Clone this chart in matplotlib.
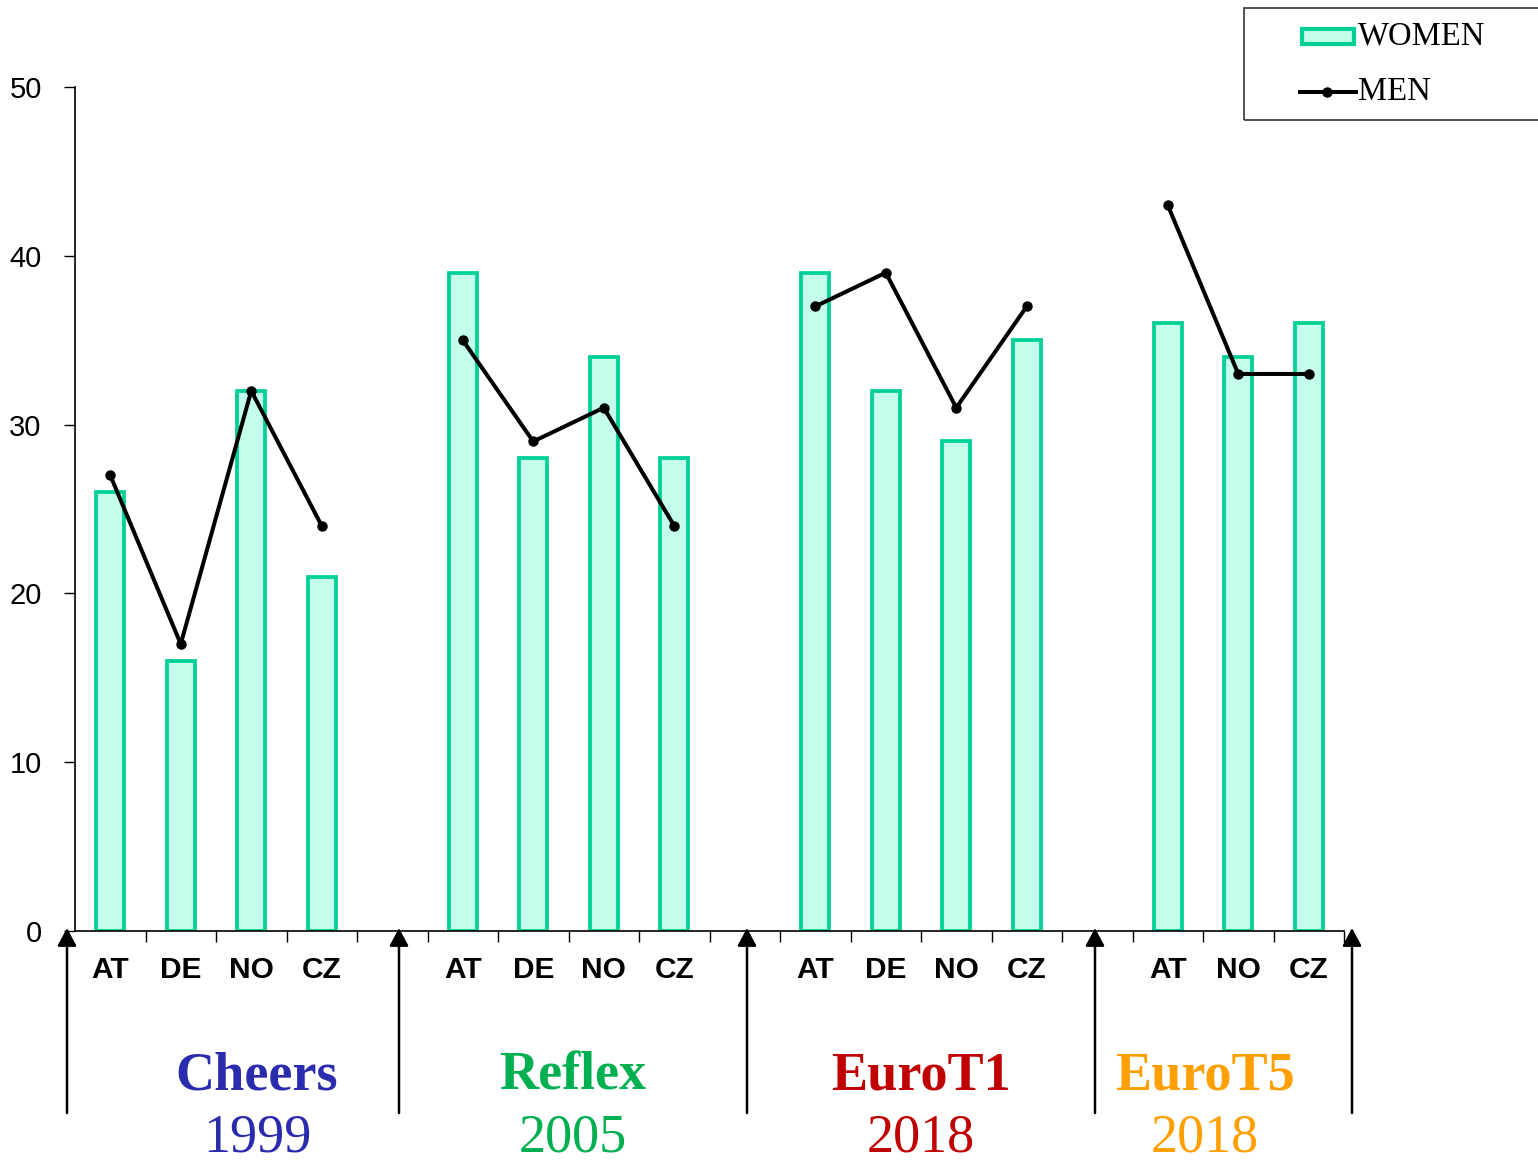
import matplotlib
matplotlib.use("Agg")
import matplotlib.pyplot as plt
import numpy as np
from matplotlib.patches import Rectangle, FancyArrowPatch
from matplotlib.lines import Line2D

# ---- data ----
groups = ["Cheers", "Reflex", "EuroT1", "EuroT5"]
years = ["1999", "2005", "2018", "2018"]
group_colors = ["#2B2BAD", "#00B050", "#C00000", "#FF9F00"]
countries = [["AT", "DE", "NO", "CZ"], ["AT", "DE", "NO", "CZ"],
             ["AT", "DE", "NO", "CZ"], ["AT", "NO", "CZ"]]
women = [[26, 16, 32, 21], [39, 28, 34, 28], [39, 32, 29, 35], [36, 34, 36]]
men = [[27, 17, 32, 24], [35, 29, 31, 24], [37, 39, 31, 37], [43, 33, 33]]

W, H = 1538, 1162
fig = plt.figure(figsize=(W / 100, H / 100), dpi=100)
ax = fig.add_axes([75 / W, (H - 931) / H, (1344 - 75) / W, (931 - 87) / H])

edge = "#00D096"
fill = "#C4FFEE"

pos = 0
xticks, xlabels = [], []
for gi, (cs, wv, mv) in enumerate(zip(countries, women, men)):
    xs = np.arange(pos, pos + len(cs))
    ax.bar(xs, wv, width=0.40, color=fill, edgecolor=edge, linewidth=2.7, zorder=2)
    ax.plot(xs, mv, color="black", lw=2.9, marker="o", markersize=6.5, zorder=3)
    xticks += list(xs)
    xlabels += cs
    pos += len(cs) + 1

ax.set_xlim(-0.5, 17.5)
ax.set_ylim(0, 50)
ax.set_yticks([0, 10, 20, 30, 40, 50])
ax.tick_params(axis="y", labelsize=21, length=8, width=1, pad=16, direction="out")
for lab in ax.get_yticklabels():
    lab.set_fontfamily("Liberation Sans")

ax.set_xticks(xticks)
ax.set_xticklabels(xlabels, fontsize=21.5, fontweight="bold", fontfamily="Liberation Sans")
ax.tick_params(axis="x", which="major", length=0, pad=18)
ax.set_xticks(np.arange(0.5, 18.0, 1.0), minor=True)
ax.tick_params(axis="x", which="minor", length=8, width=1, direction="out")

for s in ["top", "right"]:
    ax.spines[s].set_visible(False)
for s in ["left", "bottom"]:
    ax.spines[s].set_linewidth(1.2)

# arrows in figure pixels
for xa in [67, 399, 747, 1095, 1352]:
    fig.add_artist(FancyArrowPatch(
        (xa / W, (H - 1113) / H), (xa / W, (H - 928) / H),
        transform=fig.transFigure, arrowstyle="-|>,head_length=0.6,head_width=0.32",
        mutation_scale=18, color="black", lw=1.8, shrinkA=0, shrinkB=0))

# group titles
title_x = [257, 573, 921, 1205]
for g, yv, c, tx in zip(groups, years, group_colors, title_x):
    fig.text(tx / W, (H - 1077) / H, g, color=c, fontsize=39, fontweight="bold",
             fontfamily="Liberation Serif", ha="center", va="center")
    fig.text(tx / W, (H - 1138) / H, yv, color=c, fontsize=39,
             fontfamily="Liberation Serif", ha="center", va="center")

# legend box
fig.add_artist(Rectangle((1244 / W, (H - 120) / H), 320 / W, 112 / H,
                         transform=fig.transFigure, fill=False, edgecolor="#333333", lw=1.2))
fig.add_artist(Rectangle((1302 / W, (H - 44) / H), 52 / W, 15 / H,
                         transform=fig.transFigure, facecolor=fill, edgecolor=edge, lw=3))
fig.add_artist(Line2D([1300 / W, 1356 / W], [(H - 92) / H] * 2, transform=fig.transFigure,
                      color="black", lw=2.9))
fig.add_artist(Line2D([1327 / W], [(H - 92) / H], transform=fig.transFigure,
                      color="black", marker="o", markersize=6.5, lw=0))
fig.text(1358 / W, (H - 36) / H, "WOMEN", fontsize=23.5, fontfamily="Liberation Serif",
         ha="left", va="center")
fig.text(1358 / W, (H - 92) / H, "MEN", fontsize=23.5, fontfamily="Liberation Serif",
         ha="left", va="center")

fig.savefig("out.png", dpi=100)
